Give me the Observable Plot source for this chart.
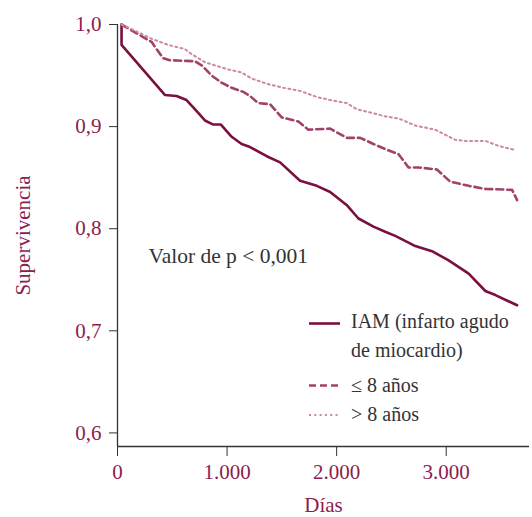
<!DOCTYPE html>
<html>
<head>
<meta charset="utf-8">
<script src="https://cdn.jsdelivr.net/npm/d3@7"></script>
<script src="https://cdn.jsdelivr.net/npm/@observablehq/plot@0.6"></script>
<style>
  html, body { margin: 0; padding: 0; background: #fff; }
  #wrap { position: relative; width: 532px; height: 517px; font-family: "Liberation Serif", "DejaVu Serif", serif; }
  #legend { position: absolute; left: 0; top: 0; }
</style>
</head>
<body>
<div id="wrap"></div>
<script>
// ---- Data ----
const seriesNames = ["IAM (infarto agudo de miocardio)", "≤ 8 años", "> 8 años"];

const iamDays = [37, 37, 432, 539, 630, 706, 798, 874, 944, 1042, 1133, 1209, 1362, 1484, 1666, 1819, 1941, 2093, 2199, 2336, 2443, 2535, 2718, 2870, 3022, 3205, 3357, 3449, 3647];
const iamSurv = [1.000, 0.980, 0.931, 0.930, 0.926, 0.917, 0.906, 0.902, 0.902, 0.890, 0.883, 0.880, 0.871, 0.865, 0.847, 0.842, 0.836, 0.823, 0.810, 0.802, 0.797, 0.793, 0.783, 0.778, 0.769, 0.756, 0.739, 0.735, 0.725];

const le8Days = [37, 311, 356, 417, 478, 706, 768, 859, 950, 1042, 1148, 1209, 1285, 1392, 1499, 1651, 1742, 1941, 2093, 2215, 2336, 2443, 2565, 2656, 2748, 2915, 3037, 3205, 3357, 3601, 3647];
const le8Surv = [1.000, 0.983, 0.976, 0.967, 0.965, 0.964, 0.960, 0.950, 0.943, 0.938, 0.934, 0.930, 0.923, 0.922, 0.909, 0.905, 0.897, 0.898, 0.889, 0.889, 0.883, 0.878, 0.873, 0.860, 0.860, 0.858, 0.846, 0.842, 0.839, 0.838, 0.828];

const gt8Days = [37, 158, 311, 463, 615, 676, 798, 889, 1011, 1133, 1225, 1362, 1514, 1666, 1819, 1941, 2093, 2185, 2336, 2443, 2565, 2718, 2900, 3083, 3175, 3357, 3479, 3632];
const gt8Surv = [1.000, 0.994, 0.986, 0.980, 0.976, 0.971, 0.963, 0.960, 0.956, 0.953, 0.947, 0.942, 0.938, 0.935, 0.929, 0.926, 0.923, 0.917, 0.913, 0.910, 0.908, 0.901, 0.897, 0.887, 0.886, 0.886, 0.881, 0.877];

const yTicks = [0.6, 0.7, 0.8, 0.9, 1.0];
const xTicks = [0, 1000, 2000, 3000];
const xDomain = [0, 3760];
const yDomain = [0.5867, 1.0];
const annotation = "Valor de p < 0,001";

// ---- Styles ----
const colors = ["#7a0f40", "#a2426b", "#cf87a5"];
const widths = [2.6, 2.6, 2];
const dashes = [null, "7,4", "2,3.3"];
const tickLabelColor = "#8b1d4f";
const axisColor = "#333";
const textColor = "#333";
const font = '"Liberation Serif", "DejaVu Serif", serif';

const toRows = (days, surv) => days.map((d, i) => ({day: d, surv: surv[i]}));
const series = [toRows(iamDays, iamSurv), toRows(le8Days, le8Surv), toRows(gt8Days, gt8Surv)];

const chart = Plot.plot({
  width: 532,
  height: 517,
  marginLeft: 117,
  marginRight: 3,
  marginTop: 24,
  marginBottom: 71,
  style: {fontFamily: font, background: "#fff"},
  x: {domain: xDomain},
  y: {domain: yDomain},
  marks: [
    Plot.axisY({
      ticks: yTicks,
      tickFormat: d => d.toFixed(1).replace(".", ","),
      tickSize: 8,
      tickPadding: 8,
      fontSize: 21,
      stroke: axisColor,
      fill: tickLabelColor,
      label: "Supervivencia",
      labelAnchor: "center",
      labelArrow: "none",
      labelOffset: 102
    }),
    Plot.axisX({
      ticks: xTicks,
      tickFormat: d => d3.format(",")(d).replace(/,/g, "."),
      tickSize: 10,
      tickPadding: 8,
      fontSize: 21,
      stroke: axisColor,
      fill: tickLabelColor,
      label: "Días",
      labelAnchor: "center",
      labelArrow: "none",
      labelOffset: 65
    }),
    Plot.ruleX([xDomain[0]], {stroke: axisColor, strokeWidth: 1.3}),
    Plot.ruleY([yDomain[0]], {stroke: axisColor, strokeWidth: 1.3}),
    ...series.map((rows, i) => Plot.line(rows, {
      x: "day", y: "surv",
      stroke: colors[i],
      strokeWidth: widths[i],
      strokeDasharray: dashes[i],
      strokeLinejoin: "round",
      curve: "linear"
    })),
    Plot.text([annotation], {
      frameAnchor: "top-left",
      dx: 31, dy: 238,
      text: d => d,
      textAnchor: "start",
      lineAnchor: "bottom",
      fontSize: 21.5,
      fill: textColor
    })
  ]
});

const wrap = document.getElementById("wrap");
wrap.appendChild(chart);

// ---- Legend (HTML/SVG overlay) ----
const legendItems = [
  {lines: ["IAM (infarto agudo", "de miocardio)"], i: 0, ly: 323.5, ty: 328},
  {lines: ["≤ 8 años"], i: 1, ly: 385.5, ty: 392},
  {lines: ["> 8 años"], i: 2, ly: 415, ty: 420.5}
];
const ns = "http://www.w3.org/2000/svg";
const leg = document.createElementNS(ns, "svg");
leg.setAttribute("id", "legend");
leg.setAttribute("width", 532);
leg.setAttribute("height", 517);
leg.style.fontFamily = font;
legendItems.forEach(it => {
  const l = document.createElementNS(ns, "line");
  l.setAttribute("x1", 309); l.setAttribute("x2", 340);
  l.setAttribute("y1", it.ly); l.setAttribute("y2", it.ly);
  l.setAttribute("stroke", colors[it.i]);
  l.setAttribute("stroke-width", widths[it.i]);
  if (dashes[it.i]) l.setAttribute("stroke-dasharray", dashes[it.i]);
  leg.appendChild(l);
  it.lines.forEach((s, k) => {
    const t = document.createElementNS(ns, "text");
    t.setAttribute("x", 351);
    t.setAttribute("y", it.ty + k * 29);
    t.setAttribute("font-size", 20);
    t.setAttribute("fill", textColor);
    t.textContent = s;
    leg.appendChild(t);
  });
});
wrap.appendChild(leg);
</script>
</body>
</html>
